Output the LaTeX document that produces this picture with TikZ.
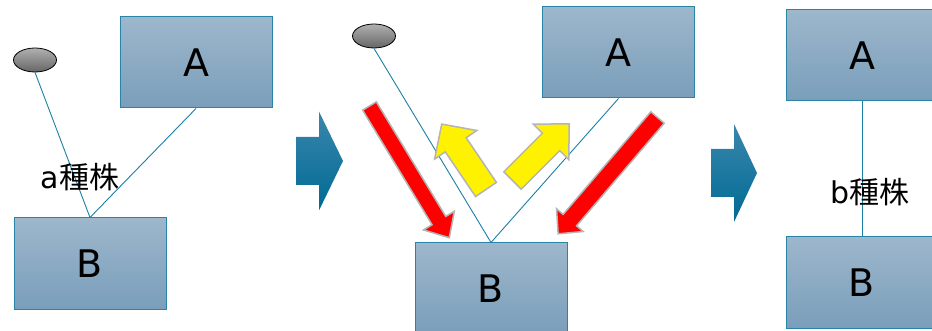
\documentclass[tikz,border=0pt]{standalone}
\usepackage{fontspec}
\setmainfont{DejaVu Sans}
\newfontfamily\jpfont{Noto Sans CJK JP}
\usetikzlibrary{shapes.geometric}

\definecolor{boxtop}{HTML}{9DB7CC}
\definecolor{boxbot}{HTML}{7A9EBA}
\definecolor{boxedge}{HTML}{2A84A8}
\definecolor{linkcol}{HTML}{1B7FA3}
\definecolor{seedtop}{HTML}{B0B0B0}
\definecolor{seedbot}{HTML}{666666}
\definecolor{stagetop}{HTML}{3A86AC}
\definecolor{stagebot}{HTML}{006A94}
\definecolor{rimcol}{HTML}{B4B4B4}

% fat arrow: style, tail, angle, length, shaft half width, head half width, head length
\newcommand{\bigarrow}[7]{%
  \path[#1, shift={#2}, rotate=#3] (0,#5) -- ({#4-#7},#5) -- ({#4-#7},#6) -- (#4,0)
    -- ({#4-#7},-#6) -- ({#4-#7},-#5) -- (0,-#5) -- cycle;}

\tikzset{
  box/.style={rectangle, draw=boxedge, line width=1pt, top color=boxtop, bottom color=boxbot,
    minimum width=152pt, minimum height=91pt, inner sep=0pt, font=\fontsize{38}{40}\selectfont},
  seed/.style={ellipse, draw=black, line width=0.8pt, top color=seedtop, bottom color=seedbot,
    minimum width=43pt, minimum height=24pt, inner sep=0pt},
  link/.style={draw=linkcol, line width=0.9pt},
  strain/.style={font=\fontsize{30}{32}\selectfont, inner sep=0pt},
  stage/.style={top color=stagetop, bottom color=stagebot},
  push/.style={fill=red, draw=rimcol, line width=1.5pt},
  pull/.style={fill=yellow, draw=rimcol, line width=1.5pt}
}

\begin{document}
\begin{tikzpicture}[x=1pt, y=-1pt]
    \useasboundingbox (0,0) rectangle (932,331);

    % First stage: seed, A and B
    \node[seed] (e1) at (35,60) {};
    \node[box] (A1) at (196,62.5) {A};
    \node[box] (B1) at (90,263.5) {B};
    \draw[link] (e1.south) -- (B1.north);
    \draw[link] (A1.south) -- (B1.north);
    \node[strain] (s1) at (80,177) {a{\jpfont 種株}};

    % Step arrows
    \bigarrow{stage}{(296,161)}{0}{47}{24}{49.5}{24}
    \bigarrow{stage}{(711,173)}{0}{46}{24}{49}{23}

    % Second stage
    \node[seed] (e2) at (374,36) {};
    \node[box] (A2) at (618.5,52.5) {A};
    \node[box] (B2) at (491,288.5) {B};
    \draw[link] (e2.south) -- (B2.north);
    \draw[link] (A2.south) -- (B2.north);

    % Forces on B
    \bigarrow{push}{(369.5,106)}{-58.8}{154}{8}{18}{20}
    \bigarrow{push}{(657.5,117.5)}{-130.5}{153}{8.8}{17.5}{18}
    \bigarrow{pull}{(486,189.5)}{124.1}{79}{12.6}{25.5}{25}
    \bigarrow{pull}{(512.5,180.5)}{45}{80}{12.3}{25.3}{25.5}

    % Third stage: b strain
    \node[box] (A3) at (862,55.5) {A};
    \node[box] (B3) at (862,282.5) {B};
    \draw[link] (A3.south) -- (B3.north);
    \node[strain] (s3) at (870,192) {b{\jpfont 種株}};

\end{tikzpicture}
\end{document}
